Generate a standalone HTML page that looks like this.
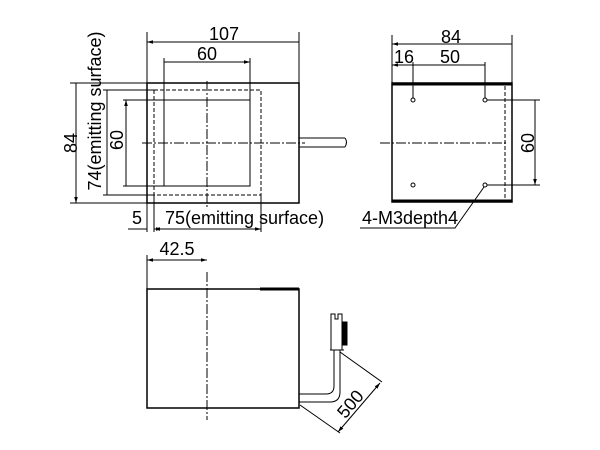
<!DOCTYPE html>
<html><head><style>body{margin:0;background:#fff}svg{display:block}text{font-family:"Liberation Sans",sans-serif;font-size:18px;fill:#000;stroke:none}</style></head>
<body>
<svg width="600" height="450" viewBox="0 0 600 450" fill="none" stroke="#000" stroke-width="1">
<defs><marker id="a" viewBox="0 0 10 10" refX="10" refY="5" markerWidth="6" markerHeight="6" orient="auto-start-reverse"><path d="M0,2L10,5L0,8" fill="#000" stroke="none"/></marker></defs>
<!-- front view -->
<rect x="147" y="83" width="152" height="120" stroke-width="1.5"/>
<rect x="154" y="90" width="107" height="105" stroke-dasharray="4,2"/>
<path d="M164,100H250V186H164Z"/>
<path d="M123,100H164M123,186H164M103,90H154M103,195H154M70,83H147M70,203H147"/>
<path d="M126,100V186M107,90V195M76,83V203" marker-start="url(#a)" marker-end="url(#a)"/>
<path d="M147,32V232M299,32V83M154,195V232M261,195V232M164,58V100M250,58V100"/>
<path d="M147,42H299M164,62H250" marker-start="url(#a)" marker-end="url(#a)"/>
<path d="M154,229H261" marker-start="url(#a)" marker-end="url(#a)"/>
<path d="M128,229H147M154,229H162" marker-end="url(#a)"/>
<path d="M142,143H305M207,81V207" stroke-dasharray="10,2,2,2"/>
<path d="M299,138H345M299,147H345M345,138Q348,142 345,147"/>
<text x="224" y="40" text-anchor="middle">107</text>
<text x="207" y="60" text-anchor="middle">60</text>
<text x="137" y="224" text-anchor="middle">5</text>
<text x="165" y="224">75(emitting surface)</text>
<text transform="translate(77,143) rotate(-90)" text-anchor="middle">84</text>
<text transform="translate(101,111) rotate(-90)" text-anchor="middle">74(emitting surface)</text>
<text transform="translate(123,140) rotate(-90)" text-anchor="middle">60</text>
<!-- side view -->
<rect x="392" y="83" width="120" height="119" stroke-width="1.5"/>
<path d="M392,84H512M392,201H512" stroke-width="3"/>
<path d="M505,86V200" stroke-dasharray="4,2"/>
<path d="M380,143H506" stroke-dasharray="10,2,2,2"/>
<circle cx="413" cy="100" r="2"/><circle cx="485" cy="100" r="2"/><circle cx="413" cy="185" r="2"/><circle cx="485" cy="185" r="2"/>
<path d="M392,35V83M512,35V83M413,62V98M485,62V98M487,100H540M487,185H540"/>
<path d="M392,44H512M413,65H485M535,100V185" marker-start="url(#a)" marker-end="url(#a)"/>
<path d="M392,65H413" marker-start="url(#a)"/>
<path d="M484,187L455,228H360"/>
<text x="451" y="43" text-anchor="middle">84</text>
<text x="404" y="63" text-anchor="middle">16</text>
<text x="450" y="63" text-anchor="middle">50</text>
<text transform="translate(534,143) rotate(-90)" text-anchor="middle">60</text>
<text x="362" y="224">4-M3depth4</text>
<!-- bottom view -->
<rect x="147" y="289" width="152" height="119" stroke-width="1.5"/>
<path d="M260,289H299" stroke-width="3"/>
<path d="M207,272V420" stroke-dasharray="10,2,2,2"/>
<path d="M147,255V289"/>
<path d="M147,260H207" marker-start="url(#a)" marker-end="url(#a)"/>
<text x="177" y="255" text-anchor="middle">42.5</text>
<path d="M299,394H326Q334,394 334,386V350M299,402H330Q340,402 340,392V350"/>
<path d="M331,350V314H335V319H338V314H342V350Z"/>
<path d="M342,322H347V345H342" fill="#000"/>
<path d="M330,350H344M340,352L382,382M300,405L340,433"/>
<path d="M380,383L338,432" marker-start="url(#a)" marker-end="url(#a)"/>
<text transform="translate(355,408) rotate(-50)" text-anchor="middle">500</text>
</svg>
</body></html>
